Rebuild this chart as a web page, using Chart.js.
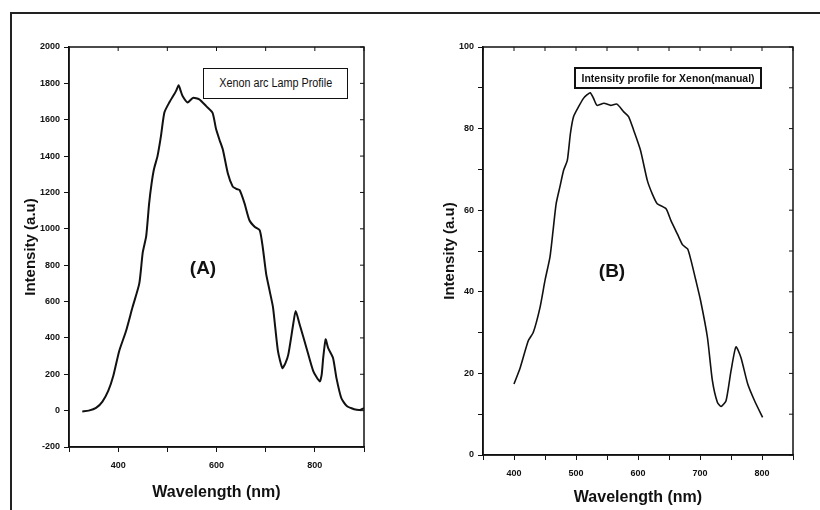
<!DOCTYPE html>
<html>
<head>
<meta charset="utf-8">
<script src="https://cdn.jsdelivr.net/npm/chart.js@4.4.1/dist/chart.umd.min.js"></script>
<style>
  body { margin: 0; background: #fff; width: 820px; height: 510px; overflow: hidden; position: relative; }
  .frame { position: absolute; left: 10px; top: 12px; width: 810px; height: 498px; border-top: 2px solid #222; border-left: 2px solid #222; box-sizing: border-box; }
  canvas { position: absolute; }
  #chartA { left: 10px; top: 12px; }
  #chartB { left: 420px; top: 12px; }
  .box { position: absolute; border: 1px solid #111; background: #fff; box-sizing: border-box;
         font-family: "Liberation Sans", Arial, sans-serif;
         color: #111; text-align: center; white-space: nowrap; overflow: hidden; }
  .box span { display: inline-block; }
  .tag { position: absolute; font: bold 19px "Liberation Sans", Arial, sans-serif; color: #111; transform: translate(-50%, -50%); }
</style>
</head>
<body>
<div class="frame"></div>
<canvas id="chartA" width="380" height="498"></canvas>
<canvas id="chartB" width="400" height="498"></canvas>
<div class="box" style="left:203px; top:68px; width:145px; height:31px; line-height:29px; font-size:12px;"><span style="transform:scaleX(0.9)">Xenon arc Lamp Profile</span></div>
<div class="box" style="left:574px; top:67px; width:188px; height:22px; line-height:18px; font-size:11px; font-weight:bold; border-width:2px;"><span style="transform:scaleX(0.95)">Intensity profile for Xenon(manual)</span></div>
<div class="tag" style="left:203px; top:268px;">(A)</div>
<div class="tag" style="left:612px; top:271px;">(B)</div>
<script>
// (A) Xenon arc lamp profile
const wavelengthA = [327, 340, 355, 368, 380, 390, 402, 416, 429, 443,
  450, 457, 463, 468, 473, 480, 487, 494, 504, 514,
  518, 523, 527, 531, 541, 552, 565, 579, 592, 599,
  606, 613, 623, 633, 640, 647, 657, 667, 678, 688,
  694, 701, 708, 715, 725, 734, 740, 746, 756, 761,
  769, 783, 797, 810, 814, 817, 822, 827, 837, 844,
  854, 865, 880, 892, 900];
const intensityA = [-5, 0, 15, 50, 110, 190, 327, 438, 567, 700,
  870, 960, 1140, 1250, 1330, 1400, 1510, 1640, 1695, 1740,
  1760, 1790, 1760, 1730, 1695, 1720, 1712, 1675, 1638, 1550,
  1490, 1435, 1306, 1232, 1220, 1213, 1140, 1047, 1010, 992,
  900, 752, 660, 567, 327, 234, 260, 308, 475, 548,
  475, 345, 216, 161, 200, 290, 392, 345, 290, 179,
  68, 25, 8, 4, 13];

// (B) intensity profile for xenon (manual)
const wavelengthB = [400, 410, 423, 431, 442, 450, 458, 463, 468, 474,
  480, 486, 491, 496, 504, 512, 518, 523, 528, 534,
  545, 556, 566, 577, 585, 593, 604, 615, 623, 631,
  645, 653, 664, 672, 680, 685, 693, 701, 712, 720,
  728, 734, 742, 750, 758, 766, 777, 788, 801];
const intensityB = [17.4, 21.4, 28, 30, 36.2, 42.8, 48.5, 55, 61.6, 65.7,
  69.8, 72.2, 78.8, 82.9, 85.3, 87.4, 88.3, 88.8, 87.5, 85.7,
  86.2, 85.7, 86, 84.1, 82.9, 79.6, 74.7, 67.3, 64, 61.6,
  60.4, 57.5, 54, 51.5, 50.5, 48, 43, 37.8, 28.8, 18.2,
  12.9, 11.9, 13.3, 20.6, 26.5, 23.9, 17.4, 13.3, 9.2];

const xTitle = 'Wavelength (nm)';
const yTitle = 'Intensity (a.u)';

const ink = '#111';
const tickFont = { family: '"Liberation Sans", Arial, sans-serif', size: 9, weight: 'bold' };
const titleFont = { family: '"Liberation Sans", Arial, sans-serif', weight: 'bold' };

// box around the plot plus inward ticks on top and right, like Origin
const frameTicks = {
  id: 'frameTicks',
  afterDraw(chart) {
    const { ctx, chartArea: a, scales: { x, y } } = chart;
    ctx.save();
    ctx.strokeStyle = ink;
    ctx.lineWidth = 1.5;
    ctx.strokeRect(a.left, a.top, a.right - a.left, a.bottom - a.top);
    ctx.lineWidth = 1;
    ctx.beginPath();
    x.ticks.forEach(t => {
      const px = x.getPixelForValue(t.value);
      ctx.moveTo(px, a.top); ctx.lineTo(px, a.top + 4);
    });
    y.ticks.forEach(t => {
      const py = y.getPixelForValue(t.value);
      ctx.moveTo(a.right, py); ctx.lineTo(a.right - 4, py);
    });
    ctx.stroke();
    ctx.restore();
  }
};

function makeChart(id, xs, ys, cfg) {
  return new Chart(document.getElementById(id), {
    type: 'line',
    data: {
      datasets: [{
        data: xs.map((v, i) => ({ x: v, y: ys[i] })),
        borderColor: ink,
        borderWidth: cfg.lineWidth,
        pointRadius: 0,
        tension: 0.2,
        fill: false
      }]
    },
    options: {
      responsive: false,
      animation: false,
      devicePixelRatio: 1,
      layout: { padding: cfg.padding },
      plugins: { legend: { display: false }, tooltip: { enabled: false } },
      scales: {
        x: {
          type: 'linear',
          min: cfg.xMin, max: cfg.xMax,
          afterFit: s => { s.height = cfg.xHeight; },
          border: { color: ink, width: 1.5 },
          grid: { drawOnChartArea: false, drawTicks: true, tickLength: 5, color: ink },
          ticks: {
            stepSize: cfg.xStep, color: ink, font: tickFont, padding: 8, maxRotation: 0, autoSkip: false,
            callback: v => (v % cfg.xLabelEvery === 0 && v > cfg.xMin && v < cfg.xMax) ? v : ''
          },
          title: { display: true, text: xTitle, color: ink, font: { ...titleFont, size: 16 }, padding: 0 }
        },
        y: {
          min: cfg.yMin, max: cfg.yMax,
          afterFit: s => { s.width = cfg.yWidth; },
          border: { color: ink, width: 1.5 },
          grid: { drawOnChartArea: false, drawTicks: true, tickLength: 5, color: ink },
          ticks: {
            stepSize: cfg.yStep, color: ink, font: tickFont, padding: 4, autoSkip: false,
            callback: v => (v % cfg.yLabelEvery === 0) ? v : ''
          },
          title: { display: true, text: yTitle, color: ink, font: { ...titleFont, size: 15 }, padding: 0 }
        }
      }
    },
    plugins: [frameTicks]
  });
}

makeChart('chartA', wavelengthA, intensityA, {
  lineWidth: 2,
  padding: { left: 12, top: 35, right: 26, bottom: 8 },
  xMin: 300, xMax: 900, xStep: 100, xLabelEvery: 200, xHeight: 55,
  yMin: -200, yMax: 2000, yStep: 200, yLabelEvery: 200, yWidth: 47
});

makeChart('chartB', wavelengthB, intensityB, {
  lineWidth: 1.6,
  padding: { left: 21, top: 35, right: 27, bottom: 3 },
  xMin: 350, xMax: 850, xStep: 50, xLabelEvery: 100, xHeight: 52,
  yMin: 0, yMax: 100, yStep: 10, yLabelEvery: 20, yWidth: 42
});
</script>
</body>
</html>
